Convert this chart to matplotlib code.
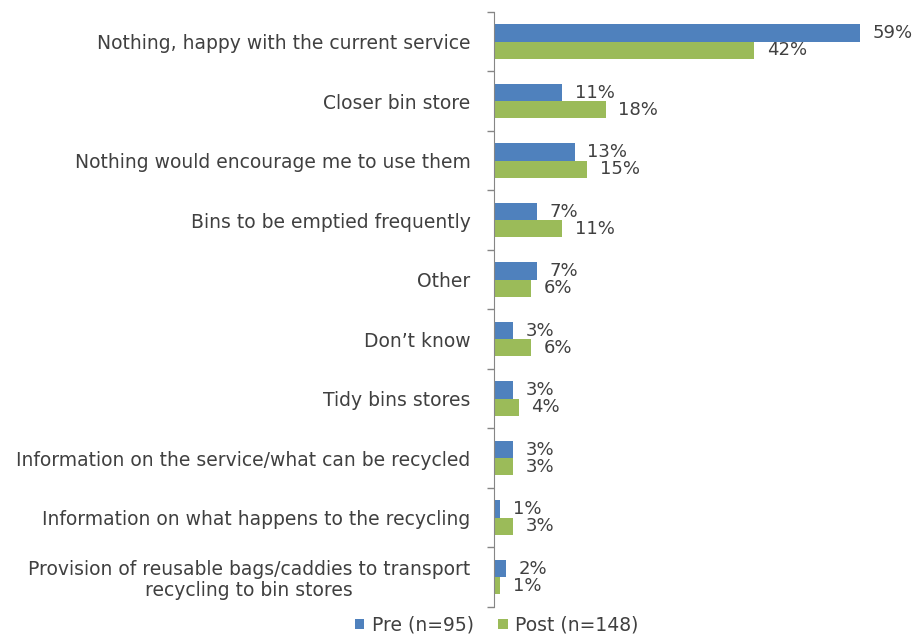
import matplotlib.pyplot as plt
import numpy as np

categories = [
    "Nothing, happy with the current service",
    "Closer bin store",
    "Nothing would encourage me to use them",
    "Bins to be emptied frequently",
    "Other",
    "Don\u2019t know",
    "Tidy bins stores",
    "Information on the service/what can be recycled",
    "Information on what happens to the recycling",
    "Provision of reusable bags/caddies to transport\nrecycling to bin stores",
]
pre = [59, 11, 13, 7, 7, 3, 3, 3, 1, 2]
post = [42, 18, 15, 11, 6, 6, 4, 3, 3, 1]
series_names = ["Pre (n=95)", "Post (n=148)"]

blue = "#4F81BD"
green = "#9BBB59"
text_col = "#404040"

plt.rcParams["font.family"] = ["DejaVu Sans"]

fig = plt.figure(figsize=(9.15, 6.34), dpi=100)
ax = fig.add_axes([0.540, 0.0426, 0.42, 0.9385])

y = np.arange(len(categories))
h = 0.29
ax.barh(y - h / 2, pre, height=h, color=blue, label=series_names[0])
ax.barh(y + h / 2, post, height=h, color=green, label=series_names[1])

# value labels just past the end of each bar
for yi, v in zip(y - h / 2, pre):
    ax.annotate(f"{v}%", (v, yi), xytext=(9, 0), textcoords="offset points",
                ha="left", va="center", fontsize=13, color=text_col)
for yi, v in zip(y + h / 2, post):
    ax.annotate(f"{v}%", (v, yi), xytext=(9, 0), textcoords="offset points",
                ha="left", va="center", fontsize=13, color=text_col)

ax.set_xlim(0, 62)
ax.set_ylim(len(categories) - 0.5, -0.5)

ax.set_yticks(y)
ax.set_yticklabels(categories, fontsize=13.5, color=text_col,
                   multialignment="center", linespacing=1.15)
ax.tick_params(axis="y", which="major", length=0, pad=17)
ax.set_yticks(np.arange(len(categories) + 1) - 0.5, minor=True)
ax.tick_params(axis="y", which="minor", length=5, color="#868686", width=1)
ax.set_xticks([])

for side in ["top", "right", "bottom"]:
    ax.spines[side].set_visible(False)
ax.spines["left"].set_color("#868686")

fig.legend(loc="center", bbox_to_anchor=(0.543, 0.014), ncol=2, frameon=False,
           fontsize=13.5, handlelength=0.5, handleheight=0.5, handletextpad=0.4,
           columnspacing=1.3, labelcolor=text_col)

fig.savefig("out.png", dpi=100)
